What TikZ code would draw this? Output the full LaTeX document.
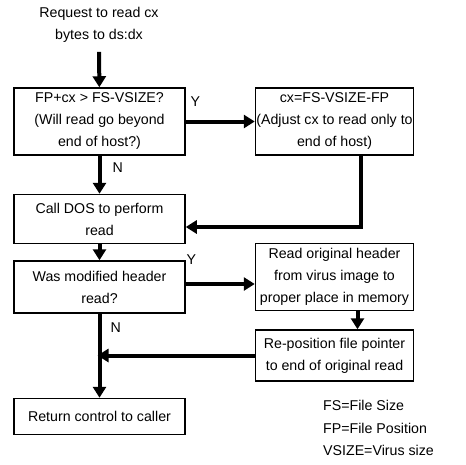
\documentclass[tikz,border=0pt]{standalone}
\usepackage{fontspec}
\setmainfont{Liberation Sans}
\usetikzlibrary{arrows.meta,positioning}

\tikzset{
	stepbox/.style={draw, line width=1.5pt, align=center, inner xsep=0.5pt, inner ysep=2pt,
		minimum width=171pt, minimum height=67pt},
	widebox/.style={stepbox, minimum width=158pt},
	flow/.style={line width=4pt, -{Triangle[width=13pt,length=11pt]}},
	lbl/.style={inner sep=0pt}
}

\begin{document}
\begin{tikzpicture}[x=1pt,y=-1pt,font=\fontsize{14.2}{22}\selectfont]
	\useasboundingbox (0,0) rectangle (466,464);
	\node (req) [align=center, inner ysep=9pt] at (99,25) {Request to read cx\\bytes to ds:dx};
	\node (check) [stepbox] at (99.5,121.5) {FP+cx > FS-VSIZE?\\(Will read go beyond\\end of host?)};
	\node (adjust) [widebox, right=69pt of check] {cx=FS-VSIZE-FP\\(Adjust cx to read only to\\end of host)};
	\node (calldos) [stepbox, minimum height=49pt, below=38pt of check] {Call DOS to perform\\read};
	\node (washdr) [stepbox, minimum height=52pt, below=16pt of calldos] {Was modified header\\read?};
	\node (readorig) [widebox, below=87pt of adjust] {Read original header\\from virus image to\\proper place in memory};
	\node (repos) [widebox, minimum height=51pt, below=18pt of readorig] {Re-position file pointer\\to end of original read};
	\node (ret) [stepbox, minimum height=36pt, below=84pt of washdr] {Return control to caller};
	\node (legend) [align=left, anchor=west, inner sep=0pt, font=\fontsize{14.2}{22.5}\selectfont]
		at (323,428) {FS=File Size\\FP=File Position\\VSIZE=Virus size};
	\draw[flow] (req) -- (check);
	\draw[flow] (check) -- node[lbl, pos=0.14, above=13pt]{Y} (adjust);
	\draw[flow] (check) -- node[lbl, pos=0.3, right=11pt]{N} (calldos);
	\draw[flow] ([xshift=26pt]adjust.south) |- ([yshift=-8pt]calldos.east);
	\draw[flow] (calldos) -- (washdr);
	\draw[flow] ([yshift=3pt]washdr.east) -- node[lbl, pos=0.08, above=18pt]{Y} ([yshift=3pt]washdr.east -| readorig.west);
	\draw[flow] ([xshift=23pt]readorig.south) -- ([xshift=23pt]repos.north);
	\draw[flow, shorten >=-2pt] (repos.west) -- (repos.west -| washdr.south);
	\draw[flow] (washdr) -- node[lbl, pos=0.17, right=9pt]{N} (ret);
\end{tikzpicture}
\end{document}
